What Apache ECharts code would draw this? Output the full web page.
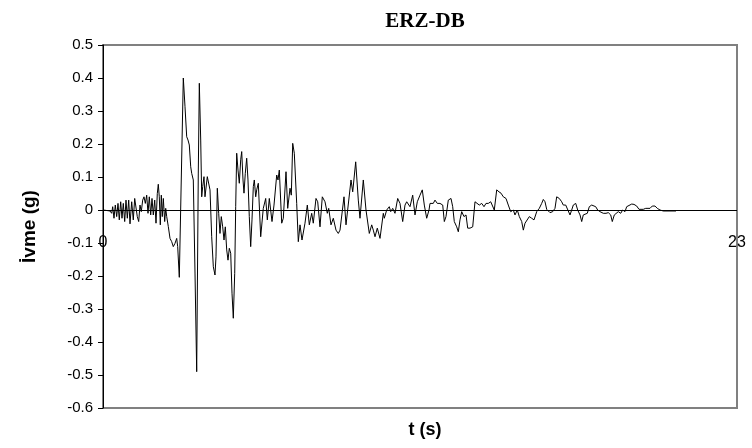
<!DOCTYPE html>
<html>
<head>
<meta charset="utf-8">
<script src="https://cdn.jsdelivr.net/npm/echarts@6/dist/echarts.min.js"></script>
<style>
  html, body { margin: 0; padding: 0; background: #fff; }
  #chart { width: 752px; height: 448px; }
</style>
</head>
<body>
<div id="chart"></div>
<script>
// Acceleration record ERZ-DB: time (s) and acceleration (g)
const timeS = [
  0.011,0.254,0.316,0.352,0.399,0.446,0.497,0.544,0.591,0.642,0.689,0.736,0.787,0.834,0.882,0.932,0.980,1.041,1.099,1.150,
  1.197,1.244,1.295,1.342,1.389,1.440,1.487,1.535,1.585,1.633,1.680,1.730,1.778,1.825,1.876,1.923,1.970,2.006,2.042,2.079,
  2.115,2.151,2.188,2.238,2.275,2.311,2.369,2.431,2.492,2.550,2.612,2.674,2.710,2.768,2.913,2.975,3.036,3.084,3.131,3.182,
  3.218,3.276,3.338,3.399,3.457,3.494,3.545,3.581,3.617,3.664,3.700,3.737,3.784,3.835,3.882,3.943,4.002,4.063,4.099,4.147,
  4.197,4.244,4.291,4.342,4.390,4.437,4.488,4.535,4.582,4.633,4.680,4.727,4.778,4.814,4.850,4.898,4.945,4.995,5.032,5.079,
  5.115,5.162,5.213,5.260,5.307,5.358,5.405,5.453,5.489,5.540,5.576,5.634,5.721,5.815,5.902,5.961,6.033,6.131,6.204,6.302,
  6.349,6.396,6.483,6.541,6.639,6.701,6.784,6.831,6.882,6.940,7.027,7.085,7.147,7.219,7.328,7.412,7.484,7.571,7.629,7.727,
  7.789,7.872,7.956,8.054,8.137,8.188,8.271,8.355,8.453,8.536,8.598,8.743,8.816,8.997,9.059,9.167,9.262,9.323,9.443,9.541,
  9.661,9.748,9.806,9.868,9.951,10.049,10.169,10.205,10.292,10.386,10.437,10.510,10.593,10.691,10.774,10.872,10.956,11.018,11.137,11.235,
  11.319,11.402,11.500,11.583,11.656,11.743,11.827,11.863,11.924,11.982,12.044,12.128,12.226,12.324,12.382,12.443,12.527,12.625,12.686,12.744,
  12.832,12.890,12.951,13.013,13.096,13.169,13.231,13.314,13.412,13.495,13.557,13.651,13.738,13.822,13.894,13.978,14.065,14.137,14.195,14.283,
  14.366,14.439,14.522,14.620,14.703,14.790,14.885,14.946,15.030,15.103,15.190,15.248,15.310,15.371,15.466,15.552,15.636,15.734,15.828,15.915,
  15.973,16.035,16.096,16.154,16.216,16.314,16.397,16.459,16.553,16.640,16.699,16.786,16.858,16.942,17.003,17.061,17.149,17.221,17.305,17.366,
  17.424,17.486,17.569,17.642,17.729,17.787,17.874,17.946,18.030,18.092,18.150,18.248,18.331,18.418,18.476,18.549,18.610,18.694,18.781,18.853,
  18.937,18.998,19.057,19.180,19.263,19.361,19.445,19.517,19.601,19.688,19.760,19.844,19.927,20.025,20.109,20.207,20.326,20.569,20.787
];
const accelG = [
  0.000,-0.003,-0.010,0.010,-0.025,0.015,-0.020,0.020,-0.030,0.025,-0.025,0.020,-0.035,0.030,-0.025,0.030,-0.042,0.025,-0.030,0.035,
  0.030,-0.020,-0.035,0.015,-0.005,0.030,0.040,0.020,0.045,-0.010,0.040,-0.015,0.035,-0.015,0.030,-0.040,0.050,0.078,0.040,-0.045,
  0.045,-0.020,0.035,-0.035,0.005,-0.020,-0.050,-0.086,-0.096,-0.111,-0.101,-0.086,-0.111,-0.204,0.400,0.313,0.222,0.212,0.197,0.131,
  0.111,0.091,-0.191,-0.490,0.112,0.384,0.212,0.040,0.071,0.101,0.040,0.045,0.101,0.106,0.061,-0.081,-0.172,-0.197,-0.142,0.066,
  -0.010,-0.071,-0.020,-0.051,-0.091,-0.051,-0.121,-0.152,-0.116,-0.131,-0.252,-0.328,-0.192,0.010,0.172,0.121,0.081,0.152,0.177,0.091,
  0.051,0.111,0.157,0.091,-0.020,-0.111,-0.030,0.071,0.091,0.040,0.061,0.081,-0.081,0.005,0.035,-0.030,0.035,-0.035,0.015,0.106,
  0.091,0.121,-0.040,-0.025,0.116,0.005,0.066,0.045,0.202,0.172,0.020,-0.096,-0.045,-0.091,-0.040,0.015,-0.045,-0.010,-0.040,0.035,
  0.025,-0.051,0.040,0.025,-0.010,0.005,-0.045,-0.025,-0.061,-0.071,-0.061,0.040,-0.045,0.091,0.055,0.146,0.030,-0.025,0.091,0.000,
  -0.071,-0.045,-0.061,-0.081,-0.055,-0.086,-0.010,-0.025,0.000,0.010,-0.005,0.005,-0.010,0.035,0.020,-0.035,0.015,0.025,0.010,0.045,
  -0.015,0.025,0.045,0.061,0.015,-0.025,0.000,0.020,0.025,0.020,0.030,0.020,0.020,0.015,-0.035,-0.020,0.030,0.035,0.010,-0.035,
  -0.051,-0.066,-0.030,-0.005,-0.020,-0.015,-0.055,-0.055,-0.051,0.025,0.030,0.015,0.020,0.010,0.020,0.020,0.025,0.030,0.000,0.061,
  0.055,0.051,0.040,0.035,0.015,-0.005,0.000,-0.015,0.000,-0.020,-0.035,-0.061,-0.040,-0.035,-0.020,-0.025,-0.030,-0.005,0.005,0.020,
  0.032,0.025,0.002,0.005,-0.008,-0.005,0.005,0.040,0.035,0.025,0.015,0.015,0.015,-0.015,0.000,0.015,0.020,0.000,-0.015,-0.035,
  -0.015,-0.010,-0.010,0.010,0.015,0.015,0.010,0.000,-0.005,0.000,-0.010,-0.010,-0.008,-0.015,-0.035,-0.015,-0.010,-0.005,-0.010,0.000,
  -0.005,0.010,0.005,0.018,0.017,0.012,0.002,-0.002,0.002,0.005,0.000,0.005,0.012,0.012,0.005,0.000,-0.003,-0.003,-0.003
];
const chartTitle = 'ERZ-DB';
const xAxisTitle = 't (s)';
const yAxisTitle = 'İvme (g)';
const timeMin = 0, timeMax = 23;
const accMin = -0.6, accMax = 0.5, accStep = 0.1;

const points = timeS.map((t, i) => [t, accelG[i]]);

const chart = echarts.init(document.getElementById('chart'), null, { renderer: 'canvas' });
chart.setOption({
  animation: false,
  backgroundColor: '#ffffff',
  title: [
    {
      text: chartTitle,
      left: 420, top: 6, textAlign: 'center',
      textStyle: { fontFamily: 'Liberation Serif', fontWeight: 'bold', fontSize: 21, color: '#000' }
    },
    {
      text: xAxisTitle,
      left: 420, top: 416, textAlign: 'center',
      textStyle: { fontFamily: 'Liberation Sans', fontWeight: 'bold', fontSize: 18, color: '#000' }
    }
  ],
  grid: {
    left: 103, right: 15, top: 45, bottom: 40,
    show: true, borderColor: '#808080', borderWidth: 2, backgroundColor: '#fff'
  },
  xAxis: {
    type: 'value', min: timeMin, max: timeMax, interval: timeMax - timeMin,
    position: 'bottom',
    axisLine: { show: false, onZero: false },
    axisTick: { show: false },
    // labels sit just under the zero line of the time axis
    axisLabel: { margin: -173, fontFamily: 'Liberation Sans', fontSize: 16, color: '#000' },
    splitLine: { show: false }
  },
  yAxis: {
    type: 'value', min: accMin, max: accMax, interval: accStep,
    name: yAxisTitle, nameLocation: 'middle', nameGap: 64, nameRotate: 90,
    nameTextStyle: { fontFamily: 'Liberation Sans', fontWeight: 'bold', fontSize: 19, color: '#000' },
    axisLine: { show: true, lineStyle: { color: '#000', width: 1 } },
    axisTick: { show: true, length: 5, lineStyle: { color: '#000' } },
    axisLabel: { margin: 10, fontFamily: 'Liberation Sans', fontSize: 15, color: '#000' },
    splitLine: { show: false }
  },
  series: [{
    type: 'line',
    data: points,
    showSymbol: false,
    lineStyle: { color: '#000', width: 1 },
    z: 3,
    markLine: {
      silent: true,
      symbol: 'none',
      label: { show: false },
      lineStyle: { color: '#000', width: 1, type: 'solid' },
      data: [{ yAxis: 0 }]
    }
  }]
});
</script>
</body>
</html>
